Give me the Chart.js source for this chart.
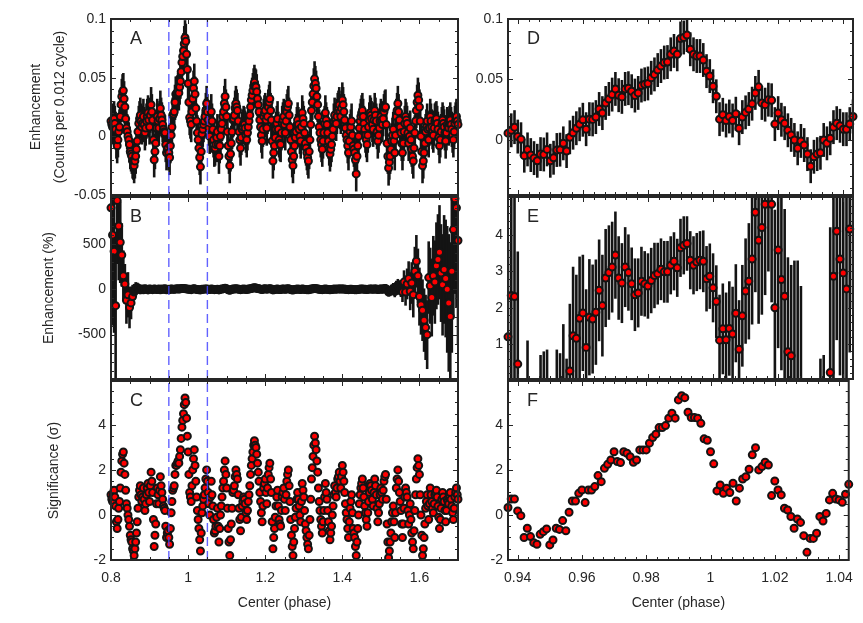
<!DOCTYPE html>
<html>
<head>
<meta charset="utf-8">
<title>Phase enhancement</title>
<script src="https://cdn.jsdelivr.net/npm/chart.js@4.4.0/dist/chart.umd.min.js"></script>
<style>
  html, body { margin: 0; padding: 0; background: #fff; }
  #wrap { position: relative; width: 863px; height: 623px; overflow: hidden; }
  #wrap canvas { position: absolute; left: 0; top: 0; }
</style>
</head>
<body>
<div id="wrap">
  <canvas id="cA" width="863" height="623"></canvas>
  <canvas id="cB" width="863" height="623"></canvas>
  <canvas id="cC" width="863" height="623"></canvas>
  <canvas id="cD" width="863" height="623"></canvas>
  <canvas id="cE" width="863" height="623"></canvas>
  <canvas id="cF" width="863" height="623"></canvas>
</div>
<script>
// phase bin centres: A and C every 0.002, B every 0.004, right column every 0.001
const phaseLeft = [];
for (let j = 0; j <= 450; j++) phaseLeft.push(+(0.8 + 0.002 * j).toFixed(3));
const phaseB = [];
for (let k = 0; k <= 225; k++) phaseB.push(+(0.8 + 0.004 * k).toFixed(3));
const phaseRight = [];
for (let i = 0; i <= 106; i++) phaseRight.push(+(0.937 + 0.001 * i).toFixed(3));

const markPhases = [0.95, 1.05];

// A: enhancement, counts per 0.012 cycle
const enhA = [
  0.013, 0.010, 0.008, 0.013, 0.015, 0.011, 0.006, -0.004, -0.008, -0.003,
  0.004, 0.008, 0.017, 0.027, 0.034, 0.038, 0.039, 0.032, 0.025, 0.015,
  0.007, 0.004, 0.000, -0.003, -0.007, -0.013, -0.015, -0.017, -0.021, -0.022,
  -0.025, -0.021, -0.017, -0.011, -0.004, 0.004, 0.011, 0.015, 0.018, 0.013,
  0.008, 0.011, 0.017, 0.010, 0.003, 0.007, 0.013, 0.017, 0.020, 0.014,
  0.008, 0.018, 0.027, 0.021, 0.014, -0.003, -0.020, -0.013, -0.006, 0.007,
  0.017, 0.013, 0.007, 0.015, 0.024, 0.018, 0.014, 0.010, 0.006, 0.004,
  0.003, -0.007, -0.014, -0.011, -0.010, -0.014, -0.018, -0.008, 0.001, 0.008,
  0.018, 0.019, 0.021, 0.029, 0.036, 0.036, 0.037, 0.039, 0.037, 0.042,
  0.047, 0.055, 0.063, 0.068, 0.073, 0.079, 0.084, 0.081, 0.070, 0.057,
  0.045, 0.029, 0.016, 0.013, 0.010, 0.021, 0.032, 0.041, 0.047, 0.036,
  0.024, 0.013, 0.003, -0.003, -0.010, -0.018, -0.026, -0.013, 0.002, 0.006,
  0.010, 0.013, 0.017, 0.022, 0.028, 0.021, 0.014, 0.007, 0.000, 0.011,
  0.021, 0.013, 0.006, -0.003, -0.011, -0.010, -0.007, -0.001, 0.004, -0.007,
  -0.017, -0.008, 0.000, 0.006, 0.011, 0.017, 0.021, 0.028, 0.034, 0.025,
  0.017, 0.004, -0.008, -0.017, -0.025, -0.015, -0.006, 0.004, 0.014, 0.015,
  0.018, 0.024, 0.028, 0.025, 0.022, 0.013, 0.004, -0.003, -0.010, -0.001,
  0.006, 0.008, 0.011, 0.010, 0.007, 0.001, -0.003, 0.003, 0.008, 0.013,
  0.018, 0.025, 0.031, 0.035, 0.039, 0.043, 0.046, 0.043, 0.042, 0.038,
  0.032, 0.027, 0.021, 0.014, 0.008, 0.001, -0.004, 0.006, 0.017, 0.020,
  0.022, 0.014, 0.007, 0.017, 0.025, 0.029, 0.032, 0.022, 0.014, -0.004,
  -0.021, -0.014, -0.008, -0.001, 0.006, 0.011, 0.015, 0.006, -0.003, -0.006,
  -0.007, 0.003, 0.011, 0.014, 0.017, 0.010, 0.003, 0.013, 0.021, 0.025,
  0.028, 0.018, 0.008, -0.003, -0.013, -0.020, -0.025, -0.017, -0.008, -0.001,
  0.004, 0.010, 0.014, 0.010, 0.006, 0.000, -0.004, 0.008, 0.020, 0.015,
  0.011, 0.003, -0.006, -0.010, -0.014, -0.018, -0.021, -0.013, -0.003, 0.010,
  0.022, 0.029, 0.036, 0.043, 0.049, 0.045, 0.041, 0.034, 0.027, 0.017,
  0.008, 0.003, -0.003, -0.007, -0.011, -0.004, 0.003, 0.011, 0.020, 0.014,
  0.010, 0.003, -0.004, -0.010, -0.015, -0.011, -0.007, 0.000, 0.006, 0.013,
  0.018, 0.014, 0.011, 0.017, 0.022, 0.024, 0.027, 0.021, 0.017, 0.024,
  0.031, 0.027, 0.021, 0.014, 0.007, 0.001, -0.003, -0.008, -0.014, -0.004,
  0.004, 0.008, 0.013, 0.001, -0.008, -0.011, -0.014, -0.020, -0.032, -0.017,
  -0.008, 0.000, 0.007, 0.013, 0.017, 0.020, 0.022, 0.017, 0.011, 0.006,
  0.001, -0.003, -0.007, 0.001, 0.008, 0.014, 0.020, 0.018, 0.015, 0.010,
  0.006, 0.014, 0.022, 0.018, 0.013, 0.004, -0.004, 0.001, 0.007, 0.013,
  0.017, 0.014, 0.010, 0.015, 0.021, 0.024, 0.025, 0.010, -0.006, -0.017,
  -0.027, -0.022, -0.017, -0.011, -0.004, 0.001, 0.006, -0.004, -0.014, 0.001,
  0.017, 0.022, 0.028, 0.021, 0.014, 0.008, 0.003, -0.006, -0.014, -0.006,
  0.004, 0.011, 0.017, 0.014, 0.011, 0.003, -0.006, 0.000, 0.007, -0.003,
  -0.011, -0.017, -0.021, -0.010, 0.003, 0.013, 0.022, 0.029, 0.035, 0.031,
  0.025, 0.013, 0.000, -0.013, -0.025, -0.021, -0.014, -0.006, 0.004, 0.008,
  0.013, 0.006, -0.003, 0.007, 0.017, 0.013, 0.008, 0.004, 0.001, 0.007,
  0.013, 0.014, 0.015, 0.011, 0.006, -0.001, -0.008, -0.003, 0.004, 0.010,
  0.014, 0.011, 0.008, 0.003, -0.004, 0.003, 0.010, 0.008, 0.007, 0.011,
  0.014, 0.010, 0.006, 0.001, -0.003, 0.004, 0.011, 0.014, 0.017, 0.013,
  0.010
];
const errA = 0.015;

// B: enhancement in percent
const enhPctB = [
  900, 600, 420, -180, 980, 700, 520, 380, 150, 60,
  -120, -60, -200, -150, -80, -30, 10, 20, 8, -5,
  3, -4, 6, 0, -6, 4, 2, -3, 5, 0,
  -2, 4, -5, 3, 0, 6, -4, 2, -3, 5,
  2, 0, 4, 6, 3, 7, 9, 10, 8, 5,
  2, 0, -3, 4, 6, 2, -2, -4, -6, 0,
  2, 3, 5, 1, -1, 4, 0, -3, -2, 2,
  -6, 0, 4, 8, 12, 6, -4, -10, -2, 3,
  4, 7, 5, 1, -3, 2, 3, 1, -1, 3,
  5, 10, 14, 18, 15, 10, 6, 2, -1, 4,
  6, 2, 5, 8, 3, -6, -3, 1, 4, -1,
  -2, 3, 4, 0, 5, 7, 2, -4, -7, -2,
  1, 3, 1, -1, 4, 2, -1, -3, -5, 0,
  4, 7, 10, 8, 5, 1, -1, -3, 0, 3,
  1, -1, -4, -2, 1, 3, 2, 4, 5, 3,
  5, 3, 1, -1, -3, 1, 2, -2, -3, -5,
  -2, 1, 3, 4, 2, 0, -2, 2, 4, 3,
  1, 5, 3, -1, 2, 4, 2, 6, 10, -4,
  -30, -20, -5, 10, -25, 30, 45, 20, 5, -30,
  80, -30, 60, 120, -20, 70, -60, 200, 310, 150,
  -80, -170, -230, -340, -420, -500, 130, 40, -90, 150,
  80, 260, 330, 410, 180, 50, 220, 120, 0, -150,
  -300, 200, 660, 1000, 900, 540
];
const errPctB = [
  1100, 1000, 900, 800, 700, 600, 450, 350, 280, 220,
  260, 250, 230, 180, 130, 90, 70, 55, 50, 48,
  46, 45, 45, 44, 45, 46, 45, 44, 45, 45,
  45, 45, 44, 45, 46, 45, 45, 44, 45, 46,
  45, 45, 44, 45, 46, 45, 45, 44, 45, 46,
  45, 45, 44, 45, 46, 45, 45, 44, 45, 46,
  45, 45, 44, 45, 46, 45, 45, 44, 45, 46,
  45, 45, 44, 45, 46, 45, 45, 44, 45, 46,
  45, 45, 44, 45, 46, 45, 45, 44, 45, 46,
  45, 45, 44, 45, 46, 45, 45, 44, 45, 46,
  45, 45, 44, 45, 46, 45, 45, 44, 45, 46,
  45, 45, 44, 45, 46, 45, 45, 44, 45, 46,
  45, 45, 44, 45, 46, 45, 45, 44, 45, 46,
  45, 45, 44, 45, 46, 45, 45, 44, 45, 46,
  45, 45, 44, 45, 46, 45, 45, 44, 45, 46,
  45, 45, 44, 45, 46, 45, 45, 44, 45, 46,
  45, 45, 44, 45, 46, 45, 45, 44, 45, 46,
  46, 46, 46, 47, 47, 48, 48, 48, 49, 49,
  50, 55, 58, 60, 62, 65, 70, 80, 90, 110,
  130, 150, 170, 190, 210, 230, 250, 270, 290, 300,
  320, 330, 340, 350, 360, 380, 400, 420, 430, 440,
  460, 480, 500, 520, 540, 560, 600, 650, 700, 760,
  820, 900, 980, 1050, 1100, 1150
];

// C: significance (sigma)
const sigC = [
  0.9, 0.7, 0.6, 0.9, 1.1, 0.8, 0.4, -0.3, -0.6, -0.2,
  0.3, 0.6, 1.2, 1.9, 2.4, 2.7, 2.8, 2.3, 1.8, 1.1,
  0.5, 0.3, 0.0, -0.2, -0.5, -0.9, -1.1, -1.2, -1.5, -1.6,
  -1.8, -1.5, -1.2, -0.8, -0.3, 0.3, 0.8, 1.1, 1.3, 0.9,
  0.6, 0.8, 1.2, 0.7, 0.2, 0.5, 0.9, 1.2, 1.4, 1.0,
  0.6, 1.3, 1.9, 1.5, 1.0, -0.2, -1.4, -0.9, -0.4, 0.5,
  1.2, 0.9, 0.5, 1.1, 1.7, 1.3, 1.0, 0.7, 0.4, 0.3,
  0.2, -0.5, -1.0, -0.8, -0.7, -1.0, -1.3, -0.6, 0.1, 0.6,
  1.1, 1.2, 1.3, 1.8, 2.2, 2.2, 2.3, 2.4, 2.3, 2.6,
  2.9, 3.4, 3.9, 4.2, 4.5, 4.9, 5.2, 5.0, 4.3, 3.5,
  2.8, 1.8, 1.0, 0.8, 0.6, 1.3, 2.0, 2.5, 2.9, 2.2,
  1.5, 0.8, 0.2, -0.2, -0.6, -1.1, -1.6, -0.8, 0.1, 0.4,
  0.7, 0.9, 1.2, 1.6, 2.0, 1.5, 1.0, 0.5, 0.0, 0.8,
  1.5, 0.9, 0.4, -0.2, -0.8, -0.7, -0.5, -0.1, 0.3, -0.5,
  -1.2, -0.6, 0.0, 0.4, 0.8, 1.2, 1.5, 2.0, 2.4, 1.8,
  1.2, 0.3, -0.6, -1.2, -1.8, -1.1, -0.4, 0.3, 1.0, 1.1,
  1.3, 1.7, 2.0, 1.8, 1.6, 0.9, 0.3, -0.2, -0.7, -0.1,
  0.4, 0.6, 0.8, 0.7, 0.5, 0.1, -0.2, 0.2, 0.6, 0.9,
  1.3, 1.8, 2.2, 2.5, 2.8, 3.1, 3.3, 3.1, 3.0, 2.7,
  2.3, 1.9, 1.5, 1.0, 0.6, 0.1, -0.3, 0.4, 1.2, 1.4,
  1.6, 1.0, 0.5, 1.2, 1.8, 2.1, 2.3, 1.6, 1.0, -0.3,
  -1.5, -1.0, -0.6, -0.1, 0.4, 0.8, 1.1, 0.4, -0.2, -0.4,
  -0.5, 0.2, 0.8, 1.0, 1.2, 0.7, 0.2, 0.9, 1.5, 1.8,
  2.0, 1.3, 0.6, -0.2, -0.9, -1.4, -1.8, -1.2, -0.6, -0.1,
  0.3, 0.7, 1.0, 0.7, 0.4, 0.0, -0.3, 0.6, 1.4, 1.1,
  0.8, 0.2, -0.4, -0.7, -1.0, -1.3, -1.5, -0.9, -0.2, 0.7,
  1.6, 2.1, 2.6, 3.1, 3.5, 3.2, 2.9, 2.4, 1.9, 1.2,
  0.6, 0.2, -0.2, -0.5, -0.8, -0.3, 0.2, 0.8, 1.4, 1.0,
  0.7, 0.2, -0.3, -0.7, -1.1, -0.8, -0.5, 0.0, 0.4, 0.9,
  1.3, 1.0, 0.8, 1.2, 1.6, 1.7, 1.9, 1.5, 1.2, 1.7,
  2.2, 1.9, 1.5, 1.0, 0.5, 0.1, -0.2, -0.6, -1.0, -0.3,
  0.3, 0.6, 0.9, 0.1, -0.6, -0.8, -1.0, -1.4, -1.8, -1.2,
  -0.6, 0.0, 0.5, 0.9, 1.2, 1.4, 1.6, 1.2, 0.8, 0.4,
  0.1, -0.2, -0.5, 0.1, 0.6, 1.0, 1.4, 1.3, 1.1, 0.7,
  0.4, 1.0, 1.6, 1.3, 0.9, 0.3, -0.3, 0.1, 0.5, 0.9,
  1.2, 1.0, 0.7, 1.1, 1.5, 1.7, 1.8, 0.7, -0.4, -1.2,
  -1.9, -1.6, -1.2, -0.8, -0.3, 0.1, 0.4, -0.3, -1.0, 0.1,
  1.2, 1.6, 2.0, 1.5, 1.0, 0.6, 0.2, -0.4, -1.0, -0.4,
  0.3, 0.8, 1.2, 1.0, 0.8, 0.2, -0.4, 0.0, 0.5, -0.2,
  -0.8, -1.2, -1.5, -0.7, 0.2, 0.9, 1.6, 2.1, 2.5, 2.2,
  1.8, 0.9, 0.0, -0.9, -1.8, -1.5, -1.0, -0.4, 0.3, 0.6,
  0.9, 0.4, -0.2, 0.5, 1.2, 0.9, 0.6, 0.3, 0.1, 0.5,
  0.9, 1.0, 1.1, 0.8, 0.4, -0.1, -0.6, -0.2, 0.3, 0.7,
  1.0, 0.8, 0.6, 0.2, -0.3, 0.2, 0.7, 0.6, 0.5, 0.8,
  1.0, 0.7, 0.4, 0.1, -0.2, 0.3, 0.8, 1.0, 1.2, 0.9,
  0.7
];

// D: enhancement around the peak
const enhD = [
  0.0056, 0.0080, 0.0106, 0.0028, 0.0006, -0.0130, -0.0078, -0.0125, -0.0150, -0.0172,
  -0.0117, -0.0120, -0.0078, -0.0172, -0.0147, -0.0083, -0.0080, -0.0028, -0.0092, 0.0022,
  0.0060, 0.0097, 0.0130, 0.0167, 0.0089, 0.0172, 0.0170, 0.0189, 0.0256, 0.0222,
  0.0306, 0.0339, 0.0375, 0.0422, 0.0370, 0.0356, 0.0422, 0.0428, 0.0403, 0.0367,
  0.0389, 0.0450, 0.0460, 0.0467, 0.0514, 0.0542, 0.0578, 0.0611, 0.0640, 0.0644,
  0.0708, 0.0736, 0.0708, 0.0839, 0.0847, 0.0867, 0.0750, 0.0708, 0.0694, 0.0694,
  0.0661, 0.0569, 0.0528, 0.0444, 0.0361, 0.0172, 0.0208, 0.0161, 0.0194, 0.0161,
  0.0217, 0.0097, 0.0189, 0.0228, 0.0256, 0.0300, 0.0389, 0.0439, 0.0306, 0.0292,
  0.0333, 0.0328, 0.0131, 0.0222, 0.0167, 0.0139, 0.0080, 0.0042, 0.0000, -0.0069,
  -0.0008, -0.0042, -0.0117, -0.0217, -0.0139, -0.0117, -0.0106, 0.0000, -0.0028, 0.0014,
  0.0106, 0.0139, 0.0117, 0.0089, 0.0089, 0.0131, 0.0194
];
const errD = 0.014;

// E: enhancement in percent around the peak
const enhPctE = [
  1.2, 2.34, 2.31, 0.45, -1.5, -3.0, -1.0, -2.5, -3.0, -3.2,
  -1.5, -1.3, -1.1, -3.0, -2.3, -1.3, -1.4, -0.5, -1.3, 0.26,
  1.23, 1.16, 1.71, 1.86, 0.91, 1.74, 1.69, 1.88, 2.48, 2.06,
  2.82, 2.97, 3.12, 3.45, 2.82, 2.68, 3.12, 2.97, 2.66, 2.36,
  2.41, 2.73, 2.66, 2.6, 2.75, 2.89, 2.94, 3.06, 2.99, 2.99,
  3.17, 3.28, 3.1, 3.65, 3.72, 3.77, 3.31, 3.17, 3.26, 3.31,
  3.28, 2.8, 2.87, 2.55, 2.17, 1.11, 1.42, 1.12, 1.43, 1.28,
  1.85, 0.86, 1.78, 2.46, 2.73, 3.34, 4.63, 3.86, 4.21, 4.85,
  5.6, 4.85, 2.0, 3.59, 2.78, 2.32, 0.79, 0.68, -0.2, -0.9,
  -0.5, -3.0, -4.5, -7.0, -5.0, -4.0, -2.3, -1.5, -3.0, 0.22,
  2.87, 4.11, 3.34, 2.96, 2.52, 4.17, 5.5
];
const errPctE = [
  2.6, 3.0, 3.0, 3.1, 0.9, 1.5, 2.1, 1.5, 1.6, 1.6,
  2.2, 2.1, 1.95, 1.6, 1.6, 2.15, 2.15, 2.05, 1.9, 1.85,
  1.9, 1.75, 1.7, 1.6, 1.6, 1.6, 1.5, 1.45, 1.4, 1.4,
  1.35, 1.3, 1.25, 1.2, 1.15, 1.1, 1.1, 1.05, 1.0, 1.0,
  0.95, 0.95, 0.9, 0.9, 0.9, 0.9, 0.85, 0.85, 0.85, 0.85,
  0.8, 0.8, 0.8, 0.8, 0.8, 0.75, 0.8, 0.8, 0.8, 0.8,
  0.85, 0.9, 0.9, 0.95, 1.0, 1.25, 1.25, 1.3, 1.3, 1.3,
  1.35, 1.35, 1.4, 1.45, 1.6, 1.8, 2.2, 2.3, 2.4, 2.5,
  2.6, 2.7, 2.7, 2.7, 2.5, 2.4, 2.6, 2.5, 3.5, 4.2,
  3.1, 2.8, 3.0, 3.5, 3.0, 3.0, 2.9, 2.2, 2.5, 4.0,
  3.0, 3.0, 3.2, 3.2, 3.2, 3.4, 3.5
];

// F: significance around the peak
const sigF = [
  0.33, 0.71, 0.71, 0.18, -0.03, -1.0, -0.59, -0.96, -1.23, -1.3,
  -0.86, -0.74, -0.62, -1.33, -1.11, -0.59, -0.64, -0.25, -0.7, 0.12,
  0.62, 0.62, 0.96, 1.11, 0.55, 1.11, 1.11, 1.26, 1.75, 1.48,
  2.07, 2.25, 2.44, 2.81, 2.37, 2.33, 2.81, 2.74, 2.59, 2.34,
  2.44, 2.89, 2.89, 2.89, 3.19, 3.44, 3.59, 3.88, 3.88, 3.97,
  4.3, 4.52, 4.3, 5.11, 5.3, 5.21, 4.56, 4.33, 4.33, 4.3,
  4.07, 3.38, 3.32, 2.81, 2.27, 1.07, 1.33, 0.96, 1.19, 1.0,
  1.41, 0.62, 1.19, 1.6, 1.7, 2.03, 2.67, 2.99, 2.0, 2.15,
  2.34, 2.22, 0.86, 1.51, 1.11, 0.89, 0.3, 0.22, -0.07, -0.59,
  -0.18, -0.33, -0.92, -1.66, -1.04, -1.04, -0.81, -0.07, -0.27, 0.07,
  0.67, 0.96, 0.71, 0.67, 0.56, 0.92, 1.36
];

const FONT = '"Liberation Sans", Arial, Helvetica, sans-serif';
const INK = '#262626';

function steps(from, to, step) {
  const out = [];
  for (let v = from; v <= to + step / 1000; v += step) out.push(+v.toFixed(5));
  return out;
}

const errorBars = {
  id: 'errorBars',
  beforeDatasetsDraw(chart) {
    const { ctx, chartArea: a, scales: { x, y } } = chart;
    ctx.save();
    ctx.beginPath();
    ctx.rect(a.left, a.top, a.right - a.left, a.bottom - a.top);
    ctx.clip();
    ctx.strokeStyle = '#141414';
    ctx.lineWidth = 2.6;
    chart.data.datasets.forEach(ds => {
      if (ds.errors === undefined) return;
      ds.data.forEach((p, i) => {
        const e = Array.isArray(ds.errors) ? ds.errors[i] : ds.errors;
        const px = x.getPixelForValue(p.x);
        ctx.beginPath();
        ctx.moveTo(px, y.getPixelForValue(p.y - e));
        ctx.lineTo(px, y.getPixelForValue(p.y + e));
        ctx.stroke();
      });
    });
    ctx.restore();
  }
};

const frame = {
  id: 'frame',
  afterDraw(chart, args, o) {
    const { ctx, chartArea: a, scales: { x, y } } = chart;
    ctx.save();
    ctx.strokeStyle = INK;
    ctx.lineWidth = 1;
    const xTicks = (vals, len) => vals.forEach(v => {
      if (v < x.min || v > x.max) return;
      const px = Math.round(x.getPixelForValue(v)) + 0.5;
      ctx.beginPath();
      ctx.moveTo(px, a.bottom); ctx.lineTo(px, a.bottom - len);
      ctx.moveTo(px, a.top); ctx.lineTo(px, a.top + len);
      ctx.stroke();
    });
    const yTicks = (vals, len) => vals.forEach(v => {
      if (v < y.min || v > y.max) return;
      const py = Math.round(y.getPixelForValue(v)) + 0.5;
      ctx.beginPath();
      ctx.moveTo(a.left, py); ctx.lineTo(a.left + len, py);
      ctx.moveTo(a.right, py); ctx.lineTo(a.right - len, py);
      ctx.stroke();
    });
    xTicks(o.xMinor, 3);
    xTicks(o.xMajor, 5);
    yTicks(o.yMinor, 3);
    yTicks(o.yMajor, 5);
    ctx.lineWidth = 2;
    ctx.strokeRect(a.left, a.top, a.right - a.left, a.bottom - a.top);
    ctx.fillStyle = INK;
    ctx.font = '18px ' + FONT;
    ctx.textBaseline = 'alphabetic';
    ctx.fillText(o.letter, a.left + 19, a.top + 25);
    ctx.restore();
  }
};

function fmt(v) { return String(+(+v).toFixed(4)); }

function panel(id, o) {
  const leftCol = o.col === 0;
  const box = { left: leftCol ? 111 : 508, right: leftCol ? 458 : 853, top: o.top, bottom: o.bottom };
  const yW = leftCol ? 111 : 50;
  const xH = o.showX ? 63 : 0;
  const xMin = leftCol ? 0.8 : 0.937;
  const xMax = leftCol ? 1.7 : 1.043;
  const xMajor = leftCol ? [0.8, 1, 1.2, 1.4, 1.6] : [0.94, 0.96, 0.98, 1, 1.02, 1.04];
  const xMinor = leftCol ? steps(0.8, 1.7, 0.05) : steps(0.94, 1.043, 0.02 / 6);

  const datasets = [];
  if (o.marks) {
    markPhases.forEach(m => datasets.push({
      data: [{ x: m, y: o.yMin }, { x: m, y: o.yMax }],
      showLine: true,
      borderColor: 'rgba(70, 70, 255, 0.85)',
      borderWidth: 1.4,
      borderDash: [9, 5],
      pointRadius: 0,
      clip: 0
    }));
  }
  datasets.push({
    data: o.phases.map((p, i) => ({ x: p, y: o.values[i] })),
    errors: o.errors,
    pointRadius: 3.5,
    pointBorderWidth: 2,
    pointBorderColor: '#141414',
    pointBackgroundColor: o.fill || '#ff0000',
    clip: { left: 6, right: 6, top: 0, bottom: 0 }
  });

  new Chart(document.getElementById(id), {
    type: 'scatter',
    data: { datasets },
    options: {
      responsive: false,
      animation: false,
      events: [],
      layout: {
        padding: { left: box.left - yW, right: 863 - box.right, top: box.top, bottom: 623 - box.bottom - xH }
      },
      scales: {
        x: {
          type: 'linear',
          min: xMin,
          max: xMax,
          display: !!o.showX,
          afterFit: s => { s.height = xH; },
          afterBuildTicks: s => { s.ticks = xMajor.map(v => ({ value: v })); },
          grid: { display: false, drawTicks: false },
          border: { display: false },
          ticks: { color: INK, font: { family: FONT, size: 14 }, padding: 10, callback: fmt, maxRotation: 0, autoSkip: false },
          title: { display: true, text: 'Center (phase)', color: INK, font: { family: FONT, size: 14 }, padding: { top: 0, bottom: 11 } }
        },
        y: {
          type: 'linear',
          min: o.yMin,
          max: o.yMax,
          afterFit: s => { s.width = yW; },
          afterBuildTicks: s => { s.ticks = o.yMajor.map(v => ({ value: v })); },
          grid: { display: false, drawTicks: false },
          border: { display: false },
          ticks: { color: INK, font: { family: FONT, size: 14 }, padding: 5, callback: fmt, autoSkip: false },
          title: {
            display: !!o.yTitle,
            text: o.yTitle || '',
            color: INK,
            font: { family: FONT, size: 14, lineHeight: 1.65 },
            padding: { top: o.titlePad || 0, bottom: 0 }
          }
        }
      },
      plugins: {
        legend: { display: false },
        tooltip: { enabled: false },
        frame: { letter: o.letter, xMajor, xMinor, yMajor: o.yMajor, yMinor: o.yMinor }
      }
    },
    plugins: [errorBars, frame]
  });
}

panel('cA', {
  col: 0, top: 19, bottom: 195, letter: 'A', marks: true,
  phases: phaseLeft, values: enhA, errors: errA,
  yMin: -0.05, yMax: 0.1, yMajor: [-0.05, 0, 0.05, 0.1], yMinor: steps(-0.05, 0.1, 0.01),
  yTitle: ['Enhancement', '(Counts per 0.012 cycle)'], titlePad: 25
});
panel('cB', {
  col: 0, top: 197, bottom: 379, letter: 'B', marks: true,
  phases: phaseB, values: enhPctB, errors: errPctB,
  fill: ctx => (errPctB[ctx.dataIndex] < 100 ? '#141414' : '#ff0000'),
  yMin: -990, yMax: 1020, yMajor: [-500, 0, 500], yMinor: steps(-900, 1000, 100),
  yTitle: 'Enhancement (%)', titlePad: 38
});
panel('cC', {
  col: 0, top: 381, bottom: 560, letter: 'C', marks: true, showX: true,
  phases: phaseLeft, values: sigC,
  yMin: -2, yMax: 5.95, yMajor: [-2, 0, 2, 4], yMinor: steps(-2, 5.5, 0.5),
  yTitle: 'Significance (σ)', titlePad: 43
});
panel('cD', {
  col: 1, top: 19, bottom: 195, letter: 'D',
  phases: phaseRight, values: enhD, errors: errD,
  yMin: -0.0455, yMax: 0.1, yMajor: [0, 0.05, 0.1], yMinor: steps(-0.04, 0.1, 0.01)
});
panel('cE', {
  col: 1, top: 197, bottom: 379, letter: 'E',
  phases: phaseRight, values: enhPctE, errors: errPctE,
  yMin: 0.04, yMax: 5.05, yMajor: [1, 2, 3, 4], yMinor: steps(0.2, 5, 0.2)
});
panel('cF', {
  col: 1, top: 381, bottom: 560, letter: 'F', showX: true,
  phases: phaseRight, values: sigF,
  yMin: -2, yMax: 5.95, yMajor: [-2, 0, 2, 4], yMinor: steps(-2, 5.5, 0.5)
});
</script>
</body>
</html>
